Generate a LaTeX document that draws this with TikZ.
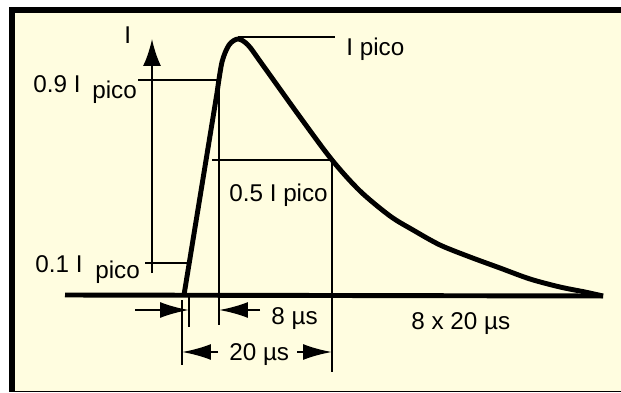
\documentclass[tikz,border=0pt]{standalone}
\usepackage{fontspec}
\setmainfont{Liberation Sans}
\usetikzlibrary{arrows.meta}
\definecolor{figpaper}{HTML}{FFFDE0}

\begin{document}
\begin{tikzpicture}[
  x=0.02cm, y=-0.02cm,
  >={Latex[length=5.8mm,width=3.2mm]},
  pulse/.style={line width=2.8pt, line join=round},
  guide/.style={line width=0.8pt},
  dim/.style={->, line width=1.3pt},
  lbl/.style={font=\fontsize{13.8}{16}\selectfont, inner sep=0pt, anchor=base west},
]

% Frame
\useasboundingbox (0,0) rectangle (621,392);
\fill[figpaper] (9,7) rectangle (621,392);
\fill[black] (9,7) rectangle (621,13);
\fill[black] (9,7) rectangle (15,392);
\fill[black] (9,390.5) rectangle (621,392);

% Key points
\coordinate (foot) at (184,295);
\coordinate (peak) at (238,39);
\coordinate (p90) at (220,80);
\coordinate (p50) at (332,160);
\coordinate (tail) at (603,296);

% Time axis
\draw[line width=2.8pt] (65,295) -- (tail);

% Current axis
\coordinate (ybot) at (152,273);
\coordinate (ytop) at (152,39);
\draw[->, >={Latex[length=5.4mm,width=3.6mm]}, line width=1.3pt] (ybot) -- (ytop);

% Pulse
\draw[pulse] (foot) -- plot[smooth, tension=0.5] coordinates {
  (217,93) (222,62) (229,45) (238,39) (248,45) (262,64) (300,117)
  (332,160) (360,191) (390,216) (413,230) (440,245) (470,257)
  (500,268) (530,279) (560,287) (585,292) (603,296)};

% Levels
\draw[guide] (138,80) -- (p90);
\draw[guide] (145,263) -- (187,263);
\draw[guide] (238,37) -- (335,37);
\draw[guide] (212,160) -- (p50);

% Extension lines
\draw[guide] (219,80) -- (219,325);
\draw[guide] (p50) -- (332,372);
\draw[guide] (182,300) -- (182,365);
\draw[guide] (189,295) -- (189,327);

% Dimension arrows
\draw[dim] (135,310) -- (189,310);
\draw[dim] (260,310) -- (219,310);
\draw[dim] (218,352) -- (182,352);
\draw[dim] (297,352) -- (332,352);

% Labels
\node[lbl] (ilabel) at (124,43) {I};
\node[lbl] (l90) at (33,92) {0.9 I};
\node[lbl] (l90s) at (92,98) {pico};
\node[lbl] (l10) at (35,272) {0.1 I};
\node[lbl] (l10s) at (95,278) {pico};
\node[lbl] (lpeak) at (346,55) {I pico};
\node[lbl] (l50) at (229,201) {0.5 I pico};
\node[lbl] (l8) at (271,324) {8 µs};
\node[lbl] (l20) at (229,360) {20 µs};
\node[lbl] (l160) at (411,329) {8 x 20 µs};

\end{tikzpicture}
\end{document}
